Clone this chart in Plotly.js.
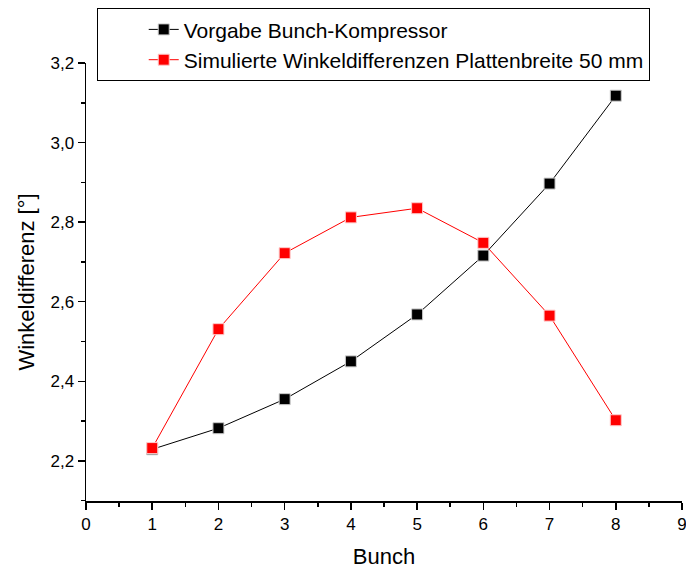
<!DOCTYPE html>
<html>
<head>
<meta charset="utf-8">
<script src="https://cdn.plot.ly/plotly-3.0.1.min.js"></script>
<style>html,body{margin:0;padding:0;background:#fff;}#chart{width:686px;height:569px;}</style>
</head>
<body>
<div id="chart"></div>
<script>
const bunch = [1, 2, 3, 4, 5, 6, 7, 8];
const vorgabe = [2.229, 2.282, 2.355, 2.450, 2.568, 2.716, 2.897, 3.118];
const simuliert = [2.232, 2.531, 2.722, 2.812, 2.835, 2.748, 2.565, 2.302];
const seriesNames = ['Vorgabe Bunch-Kompressor', 'Simulierte Winkeldifferenzen Plattenbreite 50 mm'];
const xTitle = 'Bunch';
const yTitle = 'Winkeldifferenz [°]';

const font = 'Liberation Sans, Arial, sans-serif';

const traces = [
  {x: bunch, y: vorgabe, name: seriesNames[0], type: 'scatter', mode: 'lines+markers',
   line: {color: '#000000', width: 1},
   marker: {symbol: 'square', size: 11, color: '#000000', line: {color: '#cccccc', width: 1}}},
  {x: bunch, y: simuliert, name: seriesNames[1], type: 'scatter', mode: 'lines+markers',
   line: {color: '#ff0000', width: 1},
   marker: {symbol: 'square', size: 11, color: '#ff0000', line: {color: '#ffcccc', width: 1}}}
];

const layout = {
  width: 686, height: 569,
  margin: {l: 86, r: 4, t: 63, b: 68},
  paper_bgcolor: '#ffffff', plot_bgcolor: '#ffffff',
  separators: ',.',
  font: {family: font, color: '#000000', size: 17},
  showlegend: true,
  legend: {x: 0.018, y: 1.125, xanchor: 'left', yanchor: 'top',
           bordercolor: '#000000', borderwidth: 1, bgcolor: '#ffffff',
           font: {family: font, size: 21}, tracegroupgap: 0, indentation: 46},
  xaxis: {range: [0, 9.0001], tickmode: 'linear', tick0: 0, dtick: 1,
          ticks: 'outside', ticklen: 7, tickwidth: 1.5, tickcolor: '#000',
          ticklabeloverflow: 'allow',
          showline: true, linecolor: '#000', linewidth: 1.5, mirror: false,
          showgrid: false, zeroline: false,
          minor: {ticks: 'outside', ticklen: 4, tickwidth: 1.5, tickcolor: '#000', dtick: 0.5},
          tickfont: {size: 17}, title: {text: xTitle, font: {size: 22}, standoff: 16}},
  yaxis: {range: [2.099, 3.2001], tickmode: 'linear', tick0: 2.2, dtick: 0.2, tickformat: '.1f',
          ticks: 'outside', ticklen: 7, tickwidth: 1.5, tickcolor: '#000',
          showline: true, linecolor: '#000', linewidth: 1.5, mirror: false,
          showgrid: false, zeroline: false,
          minor: {ticks: 'outside', ticklen: 4, tickwidth: 1.5, tickcolor: '#000', dtick: 0.1},
          tickfont: {size: 17}, title: {text: yTitle, font: {size: 22}, standoff: 10}}
};

Plotly.newPlot('chart', traces, layout, {displayModeBar: false, staticPlot: true});
</script>
</body>
</html>
